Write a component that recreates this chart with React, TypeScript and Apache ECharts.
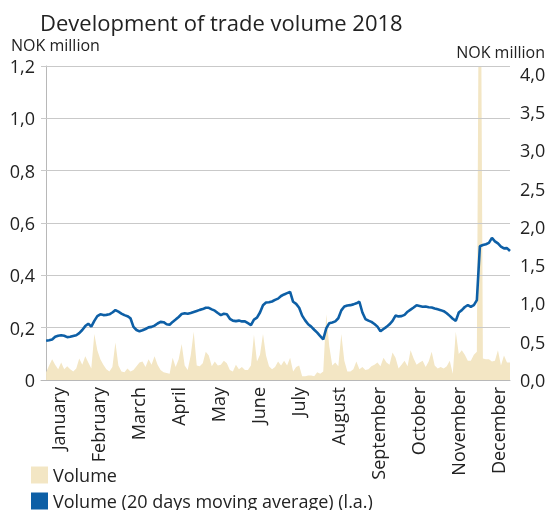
import React, { useEffect, useRef } from 'react';
import * as echarts from 'echarts';

const months = ['January', 'February', 'March', 'April', 'May', 'June', 'July', 'August', 'September', 'October', 'November', 'December'];

// 20 days moving average, NOK million (left axis)
const movingAverage = [
  0.150, 0.152, 0.155, 0.165, 0.169, 0.171, 0.169, 0.164, 0.165, 0.168,
  0.171, 0.179, 0.191, 0.206, 0.215, 0.204, 0.226, 0.244, 0.251, 0.248,
  0.249, 0.251, 0.258, 0.267, 0.261, 0.254, 0.248, 0.244, 0.236, 0.203,
  0.191, 0.186, 0.190, 0.195, 0.201, 0.203, 0.208, 0.216, 0.222, 0.221,
  0.213, 0.211, 0.222, 0.231, 0.241, 0.252, 0.255, 0.253, 0.256, 0.260,
  0.264, 0.268, 0.271, 0.276, 0.276, 0.270, 0.265, 0.256, 0.248, 0.253,
  0.251, 0.234, 0.227, 0.225, 0.227, 0.224, 0.224, 0.217, 0.210, 0.231,
  0.238, 0.258, 0.286, 0.296, 0.297, 0.300, 0.306, 0.311, 0.321, 0.327,
  0.332, 0.337, 0.299, 0.291, 0.276, 0.246, 0.228, 0.213, 0.204, 0.192,
  0.181, 0.168, 0.155, 0.197, 0.217, 0.220, 0.224, 0.236, 0.266, 0.281,
  0.285, 0.286, 0.289, 0.293, 0.299, 0.258, 0.233, 0.227, 0.222, 0.214,
  0.204, 0.186, 0.195, 0.203, 0.213, 0.226, 0.246, 0.243, 0.244, 0.249,
  0.261, 0.269, 0.277, 0.286, 0.283, 0.280, 0.281, 0.278, 0.277, 0.273,
  0.270, 0.267, 0.263, 0.255, 0.245, 0.234, 0.226, 0.258, 0.267, 0.279,
  0.286, 0.280, 0.286, 0.305, 0.511, 0.516, 0.519, 0.524, 0.543, 0.530,
  0.522, 0.510, 0.503, 0.504, 0.493,
];

// daily volume, NOK million (right axis)
const volume = [
  0.10, 0.19, 0.27, 0.20, 0.14, 0.23, 0.14, 0.18, 0.14, 0.11,
  0.15, 0.28, 0.20, 0.31, 0.23, 0.15, 0.60, 0.39, 0.27, 0.20,
  0.14, 0.11, 0.17, 0.49, 0.19, 0.11, 0.10, 0.15, 0.11, 0.13,
  0.18, 0.23, 0.24, 0.17, 0.27, 0.20, 0.31, 0.20, 0.13, 0.10,
  0.09, 0.08, 0.29, 0.17, 0.27, 0.47, 0.19, 0.13, 0.32, 0.63,
  0.19, 0.18, 0.22, 0.37, 0.32, 0.18, 0.24, 0.19, 0.20, 0.25,
  0.22, 0.13, 0.11, 0.20, 0.14, 0.17, 0.13, 0.13, 0.19, 0.59,
  0.24, 0.33, 0.60, 0.32, 0.18, 0.14, 0.17, 0.24, 0.19, 0.25,
  0.19, 0.29, 0.11, 0.17, 0.19, 0.05, 0.05, 0.06, 0.06, 0.05,
  0.10, 0.08, 0.11, 0.86, 0.44, 0.19, 0.23, 0.18, 0.60, 0.25,
  0.11, 0.11, 0.14, 0.24, 0.14, 0.17, 0.13, 0.14, 0.18, 0.20,
  0.23, 0.18, 0.29, 0.23, 0.20, 0.36, 0.29, 0.15, 0.20, 0.25,
  0.18, 0.39, 0.28, 0.20, 0.23, 0.25, 0.17, 0.24, 0.37, 0.19,
  0.15, 0.17, 0.15, 0.18, 0.25, 0.08, 0.63, 0.34, 0.39, 0.33,
  0.25, 0.25, 0.33, 0.37, 8.0, 0.28, 0.27, 0.27, 0.24, 0.25,
  0.39, 0.19, 0.32, 0.23, 0.23,
];

const gridLevels = [0.2, 0.4, 0.6, 0.8, 1.0, 1.2];

const FONT = '"Open Sans", sans-serif';
const TEXT = '#222222';
const BEIGE = '#f3e6c4';
const BLUE = '#0d5fa6';
const GRID = '#c9c9c9';

const fmt = (v: number) => v.toFixed(1).replace('.', ',');

export default function App() {
  const ref = useRef<HTMLDivElement>(null);
  useEffect(() => {
    const chart = echarts.init(ref.current!, null, { renderer: 'svg' });
    const legendText = { fontSize: 18, color: TEXT, fontFamily: FONT };
    chart.setOption({
      animation: false,
      textStyle: { fontFamily: FONT },
      graphic: [
        { type: 'text', x: 40, y: 22, style: { text: 'Development of trade volume 2018', fontSize: 22, fontFamily: FONT, fill: TEXT, align: 'left', verticalAlign: 'middle' } },
        { type: 'text', x: 11, y: 45, style: { text: 'NOK million', fontSize: 16, fontFamily: FONT, fill: TEXT, align: 'left', verticalAlign: 'middle' } },
        { type: 'text', x: 545, y: 52, style: { text: 'NOK million', fontSize: 16, fontFamily: FONT, fill: TEXT, align: 'right', verticalAlign: 'middle' } },
      ],
      legend: [
        {
          left: 31, top: 466, padding: 0, itemWidth: 17, itemHeight: 17, icon: 'rect', selectedMode: false,
          textStyle: legendText, data: ['Volume'],
        },
        {
          left: 31, top: 492, padding: 0, itemWidth: 17, itemHeight: 17, icon: 'rect', selectedMode: false,
          textStyle: legendText, data: ['Volume (20 days moving average) (l.a.)'],
        },
      ],
      grid: [
        { left: 41, right: 40, top: 66, bottom: 130 },
        { left: 37.5, right: 32.5, top: 66, bottom: 130 },
      ],
      xAxis: [
        {
          type: 'value', gridIndex: 0, min: -1.7, max: movingAverage.length - 1,
          axisLine: { show: true, lineStyle: { color: '#b8b8b8', width: 1 } },
          axisTick: { show: false }, axisLabel: { show: false }, splitLine: { show: false },
        },
        {
          type: 'category', gridIndex: 1, data: months, boundaryGap: true,
          axisLine: { show: false }, axisTick: { show: false }, splitLine: { show: false },
          axisLabel: { rotate: 90, margin: 7, fontSize: 18, color: TEXT, fontFamily: FONT, interval: 0 },
        },
      ],
      yAxis: [
        {
          type: 'value', gridIndex: 0, min: 0, max: 1.2, interval: 0.2,
          axisLine: { show: true, lineStyle: { color: '#b8b8b8', width: 1 } },
          axisTick: { show: false }, splitLine: { show: false },
          axisLabel: { margin: 6, fontSize: 18, color: TEXT, fontFamily: FONT, formatter: (v: number) => (v === 0 ? '0' : fmt(v)) },
        },
        {
          type: 'value', gridIndex: 0, min: 0, max: 4.1, interval: 0.5, position: 'right',
          axisLine: { show: false }, axisTick: { show: false }, splitLine: { show: false },
          axisLabel: { margin: 10, fontSize: 18, color: TEXT, fontFamily: FONT, showMaxLabel: false, formatter: (v: number) => fmt(v) },
        },
        { type: 'value', gridIndex: 1, min: 0, max: 1, show: false },
      ],
      series: [
        {
          name: 'Volume', type: 'line', xAxisIndex: 0, yAxisIndex: 1, z: 1,
          color: BEIGE, showSymbol: false, symbol: 'none',
          lineStyle: { width: 0, color: BEIGE }, areaStyle: { color: BEIGE, opacity: 1 },
          data: volume.map((v, i) => [i, v]),
        },
        {
          name: 'Volume (20 days moving average) (l.a.)', type: 'line', xAxisIndex: 0, yAxisIndex: 0, z: 3,
          color: BLUE, showSymbol: false, symbol: 'none',
          lineStyle: { width: 2.6, color: BLUE },
          data: movingAverage.map((v, i) => [i, v]),
          markLine: {
            silent: true, z: 2, symbol: ['none', 'none'], label: { show: false },
            lineStyle: { color: GRID, width: 1, type: 'solid' },
            emphasis: { disabled: true },
            data: gridLevels.map((v) => ({ yAxis: v })),
          },
        },
      ],
    });
    return () => chart.dispose();
  }, []);
  return <div ref={ref} style={{ position: 'fixed', left: 0, top: 0, width: 550, height: 510 }} />;
}
